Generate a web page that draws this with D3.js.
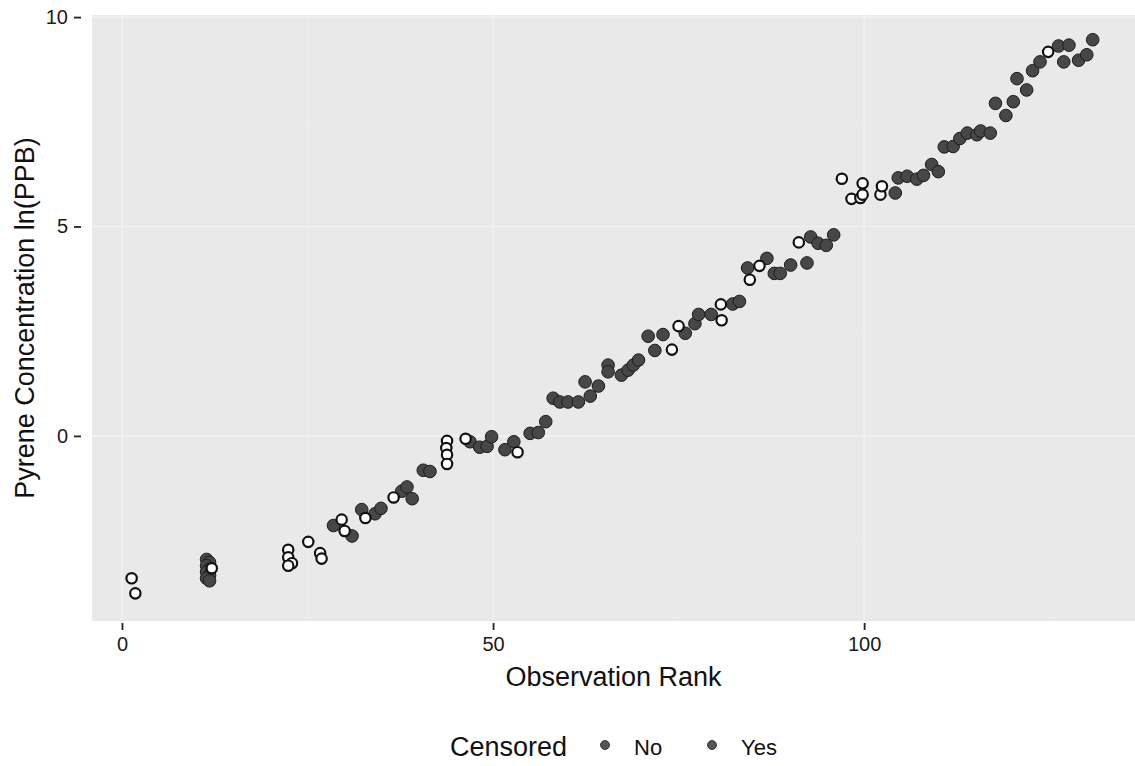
<!DOCTYPE html>
<html>
<head>
<meta charset="utf-8">
<script src="https://cdn.jsdelivr.net/npm/d3@7"></script>
<style>
  body { margin: 0; background: #fff; }
  svg text { font-family: "Liberation Sans", Arial, Helvetica, sans-serif; }
</style>
</head>
<body>
<div id="grafica"></div>
<script>
'use strict'

//----------------------------DATOS--------------------------------//
var obsRank = [1.3, 1.8,
  11.4, 11.8, 11.4, 11.8, 11.4, 11.8, 11.4, 11.8, 12.1,
  22.4, 22.4, 22.9, 22.4, 25.1, 26.7, 26.9, 28.5, 29.6, 30.0,
  31.0, 32.3, 32.8, 34.1, 34.9, 36.6, 37.7, 38.4, 39.1, 40.6,
  41.5, 43.8, 43.7, 43.8, 43.8, 46.3, 46.9, 48.2, 49.2, 49.8,
  51.6, 52.8, 53.3, 55.0, 56.1, 57.1, 58.1, 59.0, 60.1, 61.5,
  62.4, 63.1, 64.2, 65.5, 65.5, 67.3, 68.2, 68.9, 69.6, 70.9,
  71.8, 72.9, 74.1, 75.0, 75.9, 77.2, 77.7, 79.4, 80.7, 80.8,
  82.3, 83.2, 84.3, 84.6, 85.9, 86.9, 87.9, 88.7, 90.1, 91.2,
  92.3, 92.8, 93.8, 94.9, 95.9, 97.0, 98.3, 99.5, 99.8, 99.8,
  102.2, 102.4, 104.2, 104.6, 105.8, 107.1, 108.0, 109.1, 110.0, 110.8,
  112.0, 112.9, 113.9, 115.2, 115.7, 117.0, 117.7, 119.1, 120.1, 120.6,
  121.9, 122.7, 123.7, 124.8, 126.2, 126.9, 127.6, 128.9, 130.0, 130.8];

var lnPyrene = [-3.40, -3.76,
  -2.95, -3.02, -3.10, -3.18, -3.25, -3.33, -3.40, -3.46, -3.16,
  -2.72, -2.90, -3.04, -3.10, -2.53, -2.80, -2.93, -2.14, -2.00, -2.27,
  -2.39, -1.76, -1.96, -1.86, -1.73, -1.47, -1.32, -1.22, -1.50, -0.82,
  -0.85, -0.12, -0.29, -0.45, -0.67, -0.07, -0.14, -0.27, -0.25, -0.02,
  -0.33, -0.14, -0.39, 0.06, 0.08, 0.34, 0.90, 0.81, 0.81, 0.81,
  1.29, 0.95, 1.19, 1.69, 1.53, 1.45, 1.57, 1.69, 1.81, 2.38,
  2.04, 2.42, 2.06, 2.62, 2.45, 2.68, 2.90, 2.90, 3.14, 2.76,
  3.15, 3.21, 4.01, 3.73, 4.06, 4.24, 3.88, 3.88, 4.08, 4.62,
  4.13, 4.75, 4.60, 4.55, 4.80, 6.14, 5.66, 5.68, 5.76, 6.03,
  5.76, 5.96, 5.80, 6.16, 6.20, 6.13, 6.22, 6.48, 6.31, 6.90,
  6.91, 7.10, 7.23, 7.19, 7.28, 7.23, 7.94, 7.65, 7.98, 8.53,
  8.26, 8.72, 8.93, 9.17, 9.31, 8.93, 9.33, 8.97, 9.10, 9.46];

var censored = ['Yes', 'Yes',
  'No', 'No', 'No', 'No', 'No', 'No', 'No', 'No', 'Yes',
  'Yes', 'Yes', 'Yes', 'Yes', 'Yes', 'Yes', 'Yes', 'No', 'Yes', 'Yes',
  'No', 'No', 'Yes', 'No', 'No', 'Yes', 'No', 'No', 'No', 'No',
  'No', 'Yes', 'Yes', 'Yes', 'Yes', 'Yes', 'No', 'No', 'No', 'No',
  'No', 'No', 'Yes', 'No', 'No', 'No', 'No', 'No', 'No', 'No',
  'No', 'No', 'No', 'No', 'No', 'No', 'No', 'No', 'No', 'No',
  'No', 'No', 'Yes', 'Yes', 'No', 'No', 'No', 'No', 'Yes', 'Yes',
  'No', 'No', 'No', 'Yes', 'Yes', 'No', 'No', 'No', 'No', 'Yes',
  'No', 'No', 'No', 'No', 'No', 'Yes', 'Yes', 'Yes', 'Yes', 'Yes',
  'Yes', 'Yes', 'No', 'No', 'No', 'No', 'No', 'No', 'No', 'No',
  'No', 'No', 'No', 'No', 'No', 'No', 'No', 'No', 'No', 'No',
  'No', 'No', 'No', 'Yes', 'No', 'No', 'No', 'No', 'No', 'No'];

var xTicks = [0, 50, 100];
var xMinor = [25, 75, 125];
var yTicks = [0, 5, 10];
var yMinor = [-2.5, 2.5, 7.5];
var legendKeys = ['No', 'Yes'];

var datos = obsRank.map(function (r, i) {
  return { rank: r, valor: lnPyrene[i], cens: censored[i] };
});

//----------------------------GRAFICA SVG--------------------------------//
var width = 1135, height = 766;
var panel = { left: 92, right: 1135, top: 15, bottom: 621 };

var x = d3.scaleLinear().domain([-4.04, 136.5]).range([panel.left, panel.right]);
var y = d3.scaleLinear().domain([-4.42, 10.05]).range([panel.bottom, panel.top]);

var svg = d3.select('#grafica').append('svg')
  .attr('width', width)
  .attr('height', height);

// fondo del panel
svg.append('rect')
  .attr('x', panel.left)
  .attr('y', panel.top)
  .attr('width', panel.right - panel.left)
  .attr('height', panel.bottom - panel.top)
  .attr('fill', '#e9e9e9');

// rejilla (casi invisible en el original)
svg.selectAll('.vmin').data(xMinor).enter().append('line')
  .attr('x1', function (d) { return x(d); }).attr('x2', function (d) { return x(d); })
  .attr('y1', panel.top).attr('y2', panel.bottom)
  .attr('stroke', '#eeeeee').attr('stroke-width', 0.8);
svg.selectAll('.hmin').data(yMinor).enter().append('line')
  .attr('y1', function (d) { return y(d); }).attr('y2', function (d) { return y(d); })
  .attr('x1', panel.left).attr('x2', panel.right)
  .attr('stroke', '#eeeeee').attr('stroke-width', 0.8);
svg.selectAll('.vmaj').data(xTicks).enter().append('line')
  .attr('x1', function (d) { return x(d); }).attr('x2', function (d) { return x(d); })
  .attr('y1', panel.top).attr('y2', panel.bottom)
  .attr('stroke', '#f1f1f1').attr('stroke-width', 1.6);
svg.selectAll('.hmaj').data(yTicks).enter().append('line')
  .attr('y1', function (d) { return y(d); }).attr('y2', function (d) { return y(d); })
  .attr('x1', panel.left).attr('x2', panel.right)
  .attr('stroke', '#f1f1f1').attr('stroke-width', 1.6);

// ejes
var ejeX = svg.append('g')
  .attr('transform', 'translate(0,623)')
  .call(d3.axisBottom(x).tickValues(xTicks).tickSize(7).tickPadding(7));
var ejeY = svg.append('g')
  .attr('transform', 'translate(81,0)')
  .call(d3.axisLeft(y).tickValues(yTicks).tickSize(7).tickPadding(6));

[ejeX, ejeY].forEach(function (eje) {
  eje.select('.domain').remove();
  eje.selectAll('line').attr('stroke', '#222').attr('stroke-width', 1.8);
  eje.selectAll('text')
    .style('font-size', '20px')
    .style('font-family', '"Liberation Sans", Arial, sans-serif')
    .attr('fill', '#1a1a1a');
});

// puntos: primero los no censurados, luego los censurados encima
svg.append('g').selectAll('circle')
  .data(datos.filter(function (d) { return d.cens === 'No'; }))
  .enter().append('circle')
  .attr('cx', function (d) { return x(d.rank); })
  .attr('cy', function (d) { return y(d.valor); })
  .attr('r', 6.3)
  .attr('fill', '#474747')
  .attr('stroke', '#1c1c1c')
  .attr('stroke-width', 1);

svg.append('g').selectAll('circle')
  .data(datos.filter(function (d) { return d.cens === 'Yes'; }))
  .enter().append('circle')
  .attr('cx', function (d) { return x(d.rank); })
  .attr('cy', function (d) { return y(d.valor); })
  .attr('r', 5.2)
  .attr('fill', '#fff')
  .attr('stroke', '#111')
  .attr('stroke-width', 2.2);

// titulos de ejes
svg.append('text')
  .attr('x', (panel.left + panel.right) / 2)
  .attr('y', 686)
  .attr('text-anchor', 'middle')
  .style('font-size', '27px')
  .attr('fill', '#111')
  .text('Observation Rank');

svg.append('text')
  .attr('transform', 'translate(34,' + (panel.top + panel.bottom) / 2 + ') rotate(-90)')
  .attr('text-anchor', 'middle')
  .style('font-size', '27px')
  .attr('fill', '#111')
  .text('Pyrene Concentration ln(PPB)');

//----------------------------LEYENDA--------------------------------//
var leyenda = svg.append('g');
leyenda.append('text')
  .attr('x', 450)
  .attr('y', 756)
  .style('font-size', '27px')
  .attr('fill', '#111')
  .text('Censored');

var keyX = [605, 712];
legendKeys.forEach(function (k, i) {
  leyenda.append('circle')
    .attr('cx', keyX[i])
    .attr('cy', 745)
    .attr('r', 4.5)
    .attr('fill', '#555')
    .attr('stroke', '#222')
    .attr('stroke-width', 0.8);
  leyenda.append('text')
    .attr('x', keyX[i] + 29)
    .attr('y', 755)
    .style('font-size', '22px')
    .attr('fill', '#111')
    .text(k);
});
</script>
</body>
</html>
